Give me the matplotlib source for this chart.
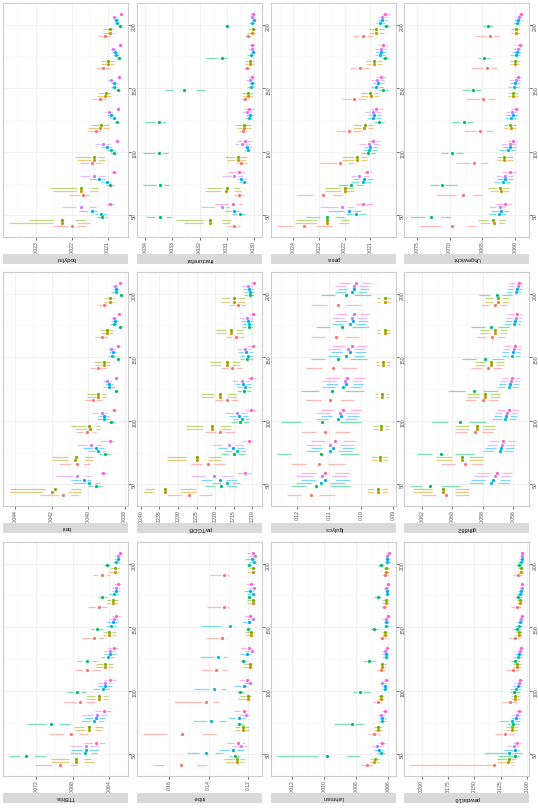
import matplotlib.pyplot as plt
from matplotlib.ticker import FixedLocator
import numpy as np

plt.rcParams['font.family'] = ['Liberation Sans', 'DejaVu Sans']

N_VALUES = [50, 75, 100, 125, 150, 175, 200]
COLORS = ['#F8766D', '#CD9600', '#7CAE00', '#00BE67', '#00BFC4', '#00A9FF', '#C77CFF', '#FF61CC']

# every array: rows = the 8 methods, columns = n (50 ... 200)
# HI = upper whisker end, Q3 / Q1 = box edges, MED = median, LO = lower whisker end

BODYFAT_HI = [
    [0.02252, 0.02207, 0.02178, 0.02157, 0.02145, 0.02133, 0.02128],
    [0.02377, 0.02252, 0.02185, 0.02155, 0.02131, 0.02120, 0.02113],
    [0.02319, 0.02261, 0.02192, 0.02148, 0.02127, 0.02118, 0.02113],
    [0.02131, 0.02106, 0.02093, 0.02081, 0.02076, 0.02073, 0.02070],
    [0.02136, 0.02118, 0.02102, 0.02094, 0.02090, 0.02085, 0.02082],
    [0.02181, 0.02152, 0.02118, 0.02102, 0.02092, 0.02087, 0.02083],
    [0.02229, 0.02178, 0.02136, 0.02111, 0.02099, 0.02093, 0.02087],
    [0.02106, 0.02090, 0.02080, 0.02076, 0.02071, 0.02069, 0.02069],
]
BODYFAT_Q3 = [
    [0.02210, 0.02178, 0.02152, 0.02136, 0.02124, 0.02118, 0.02113],
    [0.02252, 0.02187, 0.02148, 0.02127, 0.02113, 0.02104, 0.02097],
    [0.02252, 0.02187, 0.02148, 0.02124, 0.02111, 0.02104, 0.02097],
    [0.02122, 0.02099, 0.02085, 0.02076, 0.02072, 0.02069, 0.02067],
    [0.02127, 0.02108, 0.02094, 0.02087, 0.02083, 0.02080, 0.02078],
    [0.02155, 0.02131, 0.02106, 0.02093, 0.02085, 0.02081, 0.02079],
    [0.02189, 0.02150, 0.02120, 0.02104, 0.02093, 0.02087, 0.02082],
    [0.02094, 0.02082, 0.02074, 0.02070, 0.02067, 0.02066, 0.02064],
]
BODYFAT_MED = [
    [0.02201, 0.02170, 0.02144, 0.02132, 0.02121, 0.02113, 0.02108],
    [0.02229, 0.02175, 0.02139, 0.02122, 0.02107, 0.02099, 0.02094],
    [0.02229, 0.02176, 0.02139, 0.02119, 0.02106, 0.02098, 0.02093],
    [0.02115, 0.02094, 0.02081, 0.02074, 0.02070, 0.02068, 0.02065],
    [0.02119, 0.02102, 0.02090, 0.02083, 0.02081, 0.02077, 0.02075],
    [0.02145, 0.02124, 0.02101, 0.02090, 0.02082, 0.02079, 0.02076],
    [0.02175, 0.02138, 0.02113, 0.02097, 0.02090, 0.02084, 0.02081],
    [0.02094, 0.02082, 0.02074, 0.02070, 0.02067, 0.02066, 0.02064],
]
BODYFAT_Q1 = [
    [0.02185, 0.02167, 0.02136, 0.02127, 0.02118, 0.02108, 0.02104],
    [0.02187, 0.02150, 0.02127, 0.02113, 0.02102, 0.02094, 0.02088],
    [0.02192, 0.02148, 0.02127, 0.02113, 0.02102, 0.02094, 0.02088],
    [0.02108, 0.02090, 0.02078, 0.02070, 0.02069, 0.02066, 0.02063],
    [0.02113, 0.02096, 0.02085, 0.02081, 0.02078, 0.02074, 0.02072],
    [0.02138, 0.02118, 0.02096, 0.02085, 0.02080, 0.02076, 0.02073],
    [0.02152, 0.02127, 0.02106, 0.02094, 0.02087, 0.02081, 0.02078],
    [0.02094, 0.02082, 0.02074, 0.02070, 0.02067, 0.02066, 0.02064],
]
BODYFAT_LO = [
    [0.02161, 0.02152, 0.02118, 0.02118, 0.02104, 0.02094, 0.02094],
    [0.02150, 0.02127, 0.02108, 0.02096, 0.02090, 0.02083, 0.02081],
    [0.02164, 0.02127, 0.02108, 0.02096, 0.02090, 0.02083, 0.02081],
    [0.02102, 0.02083, 0.02074, 0.02067, 0.02065, 0.02063, 0.02060],
    [0.02102, 0.02090, 0.02080, 0.02076, 0.02071, 0.02069, 0.02068],
    [0.02131, 0.02108, 0.02087, 0.02081, 0.02074, 0.02071, 0.02069],
    [0.02133, 0.02108, 0.02094, 0.02085, 0.02081, 0.02076, 0.02072],
    [0.02083, 0.02076, 0.02069, 0.02067, 0.02062, 0.02061, 0.02059],
]

FRACT_HI = [
    [0.03093, 0.03074, 0.03065, 0.03055, 0.03045, 0.03036, 0.03033],
    [0.03257, 0.03181, 0.03097, 0.03062, 0.03043, 0.03033, 0.03024],
    [0.03288, 0.03171, 0.03106, 0.03068, 0.03043, 0.03033, 0.03020],
    [0.03399, 0.03410, 0.03407, 0.03401, 0.03328, 0.03178, 0.03106],
    [0.03080, 0.03055, 0.03036, 0.03030, 0.03024, 0.03023, 0.03018],
    [0.03106, 0.03062, 0.03036, 0.03028, 0.03018, 0.03011, 0.03007],
    [0.03196, 0.03118, 0.03070, 0.03043, 0.03028, 0.03020, 0.03015],
    [0.03143, 0.03093, 0.03062, 0.03030, 0.03020, 0.03018, 0.03015],
]
FRACT_Q3 = [
    [0.03080, 0.03062, 0.03053, 0.03045, 0.03035, 0.03028, 0.03025],
    [0.03187, 0.03121, 0.03068, 0.03043, 0.03026, 0.03019, 0.03010],
    [0.03187, 0.03118, 0.03070, 0.03043, 0.03026, 0.03019, 0.03009],
    [0.03363, 0.03360, 0.03363, 0.03363, 0.03297, 0.03131, 0.03101],
    [0.03062, 0.03043, 0.03028, 0.03020, 0.03015, 0.03012, 0.03010],
    [0.03083, 0.03053, 0.03028, 0.03018, 0.03010, 0.03005, 0.03002],
    [0.03143, 0.03083, 0.03053, 0.03030, 0.03018, 0.03012, 0.03009],
    [0.03093, 0.03065, 0.03043, 0.03020, 0.03012, 0.03010, 0.03007],
]
FRACT_MED = [
    [0.03072, 0.03055, 0.03046, 0.03040, 0.03030, 0.03024, 0.03021],
    [0.03160, 0.03102, 0.03059, 0.03035, 0.03021, 0.03014, 0.03005],
    [0.03160, 0.03099, 0.03059, 0.03036, 0.03020, 0.03014, 0.03004],
    [0.03345, 0.03347, 0.03350, 0.03351, 0.03257, 0.03118, 0.03099],
    [0.03052, 0.03036, 0.03021, 0.03016, 0.03010, 0.03009, 0.03005],
    [0.03074, 0.03045, 0.03023, 0.03014, 0.03005, 0.03001, 0.02999],
    [0.03118, 0.03072, 0.03043, 0.03024, 0.03012, 0.03007, 0.03005],
    [0.03078, 0.03053, 0.03033, 0.03016, 0.03007, 0.03005, 0.03002],
]
FRACT_Q1 = [
    [0.03062, 0.03049, 0.03036, 0.03033, 0.03024, 0.03020, 0.03018],
    [0.03118, 0.03072, 0.03049, 0.03028, 0.03015, 0.03007, 0.03001],
    [0.03116, 0.03072, 0.03049, 0.03030, 0.03015, 0.03007, 0.02999],
    [0.03323, 0.03332, 0.03336, 0.03338, 0.03213, 0.03112, 0.03098],
    [0.03045, 0.03030, 0.03015, 0.03011, 0.03005, 0.03005, 0.03001],
    [0.03065, 0.03036, 0.03018, 0.03009, 0.03001, 0.02997, 0.02996],
    [0.03106, 0.03062, 0.03033, 0.03018, 0.03007, 0.03002, 0.03001],
    [0.03053, 0.03045, 0.03024, 0.03011, 0.03005, 0.03001, 0.03000],
]
FRACT_LO = [
    [0.03049, 0.03040, 0.03024, 0.03024, 0.03018, 0.03015, 0.03011],
    [0.03087, 0.03046, 0.03028, 0.03011, 0.03002, 0.02999, 0.02992],
    [0.03083, 0.03049, 0.03024, 0.03011, 0.03002, 0.02999, 0.02990],
    [0.03307, 0.03313, 0.03317, 0.03322, 0.03181, 0.03099, 0.03093],
    [0.03030, 0.03024, 0.03009, 0.03005, 0.02999, 0.02997, 0.02995],
    [0.03053, 0.03028, 0.03009, 0.03002, 0.02995, 0.02992, 0.02990],
    [0.03087, 0.03040, 0.03015, 0.03005, 0.03002, 0.02997, 0.02995],
    [0.03043, 0.03030, 0.03005, 0.02999, 0.02999, 0.02995, 0.02992],
]

PESA_HI = [
    [0.02464, 0.02385, 0.02294, 0.02235, 0.02211, 0.02180, 0.02168],
    [0.02393, 0.02275, 0.02208, 0.02168, 0.02136, 0.02117, 0.02105],
    [0.02389, 0.02275, 0.02208, 0.02168, 0.02136, 0.02117, 0.02105],
    [0.02350, 0.02227, 0.02136, 0.02085, 0.02065, 0.02054, 0.02050],
    [0.02196, 0.02176, 0.02128, 0.02113, 0.02097, 0.02081, 0.02077],
    [0.02263, 0.02168, 0.02124, 0.02105, 0.02089, 0.02077, 0.02070],
    [0.02294, 0.02176, 0.02144, 0.02121, 0.02097, 0.02081, 0.02070],
    [0.02156, 0.02124, 0.02109, 0.02097, 0.02077, 0.02065, 0.02054],
]
PESA_Q3 = [
    [0.02401, 0.02322, 0.02231, 0.02196, 0.02176, 0.02156, 0.02144],
    [0.02307, 0.02215, 0.02164, 0.02136, 0.02109, 0.02097, 0.02085],
    [0.02307, 0.02215, 0.02164, 0.02136, 0.02109, 0.02097, 0.02085],
    [0.02294, 0.02188, 0.02117, 0.02074, 0.02054, 0.02046, 0.02042],
    [0.02168, 0.02144, 0.02113, 0.02097, 0.02085, 0.02070, 0.02070],
    [0.02204, 0.02144, 0.02109, 0.02093, 0.02077, 0.02065, 0.02058],
    [0.02227, 0.02156, 0.02117, 0.02101, 0.02081, 0.02065, 0.02061],
    [0.02136, 0.02113, 0.02093, 0.02085, 0.02065, 0.02058, 0.02046],
]
PESA_MED = [
    [0.02358, 0.02283, 0.02218, 0.02183, 0.02163, 0.02140, 0.02128],
    [0.02268, 0.02199, 0.02152, 0.02123, 0.02097, 0.02086, 0.02077],
    [0.02268, 0.02199, 0.02152, 0.02121, 0.02100, 0.02086, 0.02077],
    [0.02268, 0.02173, 0.02109, 0.02067, 0.02050, 0.02042, 0.02038],
    [0.02156, 0.02128, 0.02105, 0.02088, 0.02077, 0.02064, 0.02064],
    [0.02184, 0.02126, 0.02101, 0.02084, 0.02071, 0.02060, 0.02054],
    [0.02209, 0.02144, 0.02105, 0.02090, 0.02073, 0.02060, 0.02055],
    [0.02128, 0.02113, 0.02089, 0.02077, 0.02060, 0.02051, 0.02042],
]
PESA_Q1 = [
    [0.02310, 0.02243, 0.02188, 0.02168, 0.02148, 0.02128, 0.02113],
    [0.02223, 0.02196, 0.02136, 0.02109, 0.02085, 0.02074, 0.02065],
    [0.02215, 0.02196, 0.02136, 0.02109, 0.02085, 0.02074, 0.02065],
    [0.02239, 0.02156, 0.02097, 0.02058, 0.02042, 0.02034, 0.02030],
    [0.02144, 0.02117, 0.02093, 0.02077, 0.02065, 0.02054, 0.02054],
    [0.02168, 0.02113, 0.02089, 0.02074, 0.02061, 0.02054, 0.02046],
    [0.02192, 0.02128, 0.02089, 0.02077, 0.02061, 0.02050, 0.02046],
    [0.02117, 0.02101, 0.02077, 0.02065, 0.02054, 0.02042, 0.02034],
]
PESA_LO = [
    [0.02247, 0.02211, 0.02164, 0.02136, 0.02117, 0.02105, 0.02089],
    [0.02184, 0.02164, 0.02113, 0.02089, 0.02065, 0.02054, 0.02046],
    [0.02184, 0.02164, 0.02113, 0.02089, 0.02065, 0.02054, 0.02046],
    [0.02204, 0.02128, 0.02081, 0.02046, 0.02030, 0.02026, 0.02022],
    [0.02117, 0.02097, 0.02074, 0.02058, 0.02050, 0.02042, 0.02042],
    [0.02136, 0.02089, 0.02070, 0.02058, 0.02046, 0.02038, 0.02034],
    [0.02164, 0.02105, 0.02065, 0.02058, 0.02046, 0.02034, 0.02034],
    [0.02089, 0.02093, 0.02061, 0.02050, 0.02038, 0.02030, 0.02022],
]

UHG_HI = [
    [0.07459, 0.07204, 0.06908, 0.06786, 0.06745, 0.06668, 0.06617],
    [0.06541, 0.06388, 0.06276, 0.06173, 0.06107, 0.06071, 0.06056],
    [0.06566, 0.06413, 0.06276, 0.06173, 0.06107, 0.06082, 0.06056],
    [0.07612, 0.07306, 0.07128, 0.06959, 0.06806, 0.06566, 0.06490],
    [0.06398, 0.06327, 0.06245, 0.06158, 0.06107, 0.06071, 0.06031],
    [0.06362, 0.06270, 0.06184, 0.06133, 0.06082, 0.06041, 0.06015],
    [0.06403, 0.06296, 0.06209, 0.06133, 0.06092, 0.06031, 0.06005],
    [0.06296, 0.06194, 0.06107, 0.06056, 0.06005, 0.05980, 0.05954],
]
UHG_Q3 = [
    [0.07138, 0.06898, 0.06694, 0.06592, 0.06541, 0.06490, 0.06439],
    [0.06388, 0.06260, 0.06194, 0.06107, 0.06056, 0.06031, 0.06010],
    [0.06413, 0.06276, 0.06194, 0.06107, 0.06056, 0.06031, 0.06005],
    [0.07383, 0.07163, 0.07026, 0.06847, 0.06694, 0.06515, 0.06449],
    [0.06286, 0.06235, 0.06143, 0.06092, 0.06051, 0.06020, 0.05995],
    [0.06245, 0.06184, 0.06107, 0.06056, 0.06020, 0.05990, 0.05969],
    [0.06286, 0.06194, 0.06117, 0.06071, 0.06020, 0.05980, 0.05969],
    [0.06184, 0.06107, 0.06056, 0.06005, 0.05969, 0.05944, 0.05929],
]
UHG_MED = [
    [0.06959, 0.06796, 0.06633, 0.06531, 0.06490, 0.06429, 0.06388],
    [0.06327, 0.06214, 0.06168, 0.06066, 0.06031, 0.06000, 0.05990],
    [0.06337, 0.06225, 0.06168, 0.06071, 0.06026, 0.06005, 0.05980],
    [0.07281, 0.07122, 0.06959, 0.06786, 0.06643, 0.06480, 0.06413],
    [0.06245, 0.06189, 0.06107, 0.06056, 0.06020, 0.05990, 0.05975],
    [0.06209, 0.06148, 0.06071, 0.06031, 0.05995, 0.05969, 0.05949],
    [0.06235, 0.06148, 0.06082, 0.06041, 0.05990, 0.05959, 0.05944],
    [0.06148, 0.06071, 0.06031, 0.05990, 0.05949, 0.05929, 0.05913],
]
UHG_Q1 = [
    [0.06735, 0.06643, 0.06515, 0.06439, 0.06413, 0.06347, 0.06327],
    [0.06245, 0.06184, 0.06133, 0.06041, 0.06005, 0.05980, 0.05964],
    [0.06245, 0.06194, 0.06133, 0.06041, 0.06005, 0.05980, 0.05954],
    [0.07138, 0.07077, 0.06898, 0.06735, 0.06617, 0.06449, 0.06378],
    [0.06209, 0.06148, 0.06082, 0.06031, 0.05995, 0.05969, 0.05954],
    [0.06173, 0.06117, 0.06041, 0.06005, 0.05969, 0.05949, 0.05929],
    [0.06194, 0.06107, 0.06056, 0.06020, 0.05969, 0.05939, 0.05923],
    [0.06122, 0.06041, 0.06005, 0.05980, 0.05939, 0.05913, 0.05898],
]
UHG_LO = [
    [0.06602, 0.06500, 0.06413, 0.06337, 0.06311, 0.06276, 0.06245],
    [0.06158, 0.06092, 0.06031, 0.05990, 0.05954, 0.05939, 0.05929],
    [0.06158, 0.06092, 0.06031, 0.05990, 0.05954, 0.05929, 0.05918],
    [0.06990, 0.06888, 0.06796, 0.06643, 0.06515, 0.06388, 0.06337],
    [0.06133, 0.06071, 0.06005, 0.05980, 0.05944, 0.05929, 0.05918],
    [0.06092, 0.06031, 0.05990, 0.05954, 0.05929, 0.05908, 0.05898],
    [0.06133, 0.06031, 0.05990, 0.05980, 0.05929, 0.05903, 0.05893],
    [0.06056, 0.05990, 0.05969, 0.05939, 0.05903, 0.05878, 0.05872],
]

BMI_HI = [
    [0.04264, 0.04158, 0.04065, 0.04018, 0.03991, 0.03964, 0.03945],
    [0.04436, 0.04200, 0.04071, 0.04005, 0.03964, 0.03931, 0.03915],
    [0.04427, 0.04200, 0.04096, 0.04005, 0.03969, 0.03936, 0.03909],
    [0.04000, 0.03942, 0.03891, 0.03856, 0.03845, 0.03831, 0.03827],
    [0.04082, 0.04000, 0.03951, 0.03918, 0.03891, 0.03878, 0.03873],
    [0.04096, 0.04027, 0.03945, 0.03909, 0.03885, 0.03873, 0.03864],
    [0.04176, 0.04064, 0.03978, 0.03918, 0.03891, 0.03876, 0.03867],
    [0.03936, 0.03936, 0.03873, 0.03855, 0.03845, 0.03836, 0.03833],
]
BMI_Q3 = [
    [0.04158, 0.04095, 0.04027, 0.03987, 0.03955, 0.03936, 0.03922],
    [0.04255, 0.04109, 0.04005, 0.03958, 0.03927, 0.03904, 0.03891],
    [0.04236, 0.04109, 0.04013, 0.03958, 0.03927, 0.03904, 0.03889],
    [0.03973, 0.03922, 0.03882, 0.03849, 0.03836, 0.03824, 0.03820],
    [0.04013, 0.03964, 0.03927, 0.03900, 0.03878, 0.03864, 0.03856],
    [0.04040, 0.03976, 0.03927, 0.03896, 0.03873, 0.03860, 0.03853],
    [0.04085, 0.04005, 0.03945, 0.03904, 0.03876, 0.03864, 0.03856],
    [0.03918, 0.03896, 0.03860, 0.03845, 0.03836, 0.03829, 0.03824],
]
BMI_MED = [
    [0.04140, 0.04062, 0.04004, 0.03971, 0.03945, 0.03927, 0.03913],
    [0.04200, 0.04071, 0.03989, 0.03945, 0.03916, 0.03895, 0.03882],
    [0.04182, 0.04069, 0.03995, 0.03945, 0.03916, 0.03895, 0.03880],
    [0.03960, 0.03909, 0.03873, 0.03849, 0.03836, 0.03824, 0.03820],
    [0.03995, 0.03949, 0.03913, 0.03885, 0.03871, 0.03858, 0.03849],
    [0.04024, 0.03958, 0.03913, 0.03885, 0.03865, 0.03855, 0.03847],
    [0.04060, 0.03982, 0.03927, 0.03896, 0.03873, 0.03858, 0.03851],
    [0.03918, 0.03882, 0.03860, 0.03845, 0.03836, 0.03829, 0.03824],
]
BMI_Q1 = [
    [0.04096, 0.04027, 0.03978, 0.03955, 0.03936, 0.03918, 0.03904],
    [0.04109, 0.04018, 0.03955, 0.03922, 0.03904, 0.03885, 0.03871],
    [0.04096, 0.04018, 0.03958, 0.03922, 0.03904, 0.03885, 0.03871],
    [0.03951, 0.03900, 0.03867, 0.03849, 0.03836, 0.03824, 0.03820],
    [0.03964, 0.03927, 0.03900, 0.03873, 0.03864, 0.03851, 0.03842],
    [0.04005, 0.03942, 0.03904, 0.03876, 0.03858, 0.03849, 0.03842],
    [0.04018, 0.03951, 0.03915, 0.03885, 0.03867, 0.03853, 0.03845],
    [0.03918, 0.03873, 0.03860, 0.03845, 0.03836, 0.03829, 0.03824],
]
BMI_LO = [
    [0.04051, 0.03991, 0.03955, 0.03927, 0.03904, 0.03895, 0.03891],
    [0.04040, 0.03976, 0.03933, 0.03900, 0.03882, 0.03864, 0.03860],
    [0.04040, 0.03973, 0.03933, 0.03900, 0.03882, 0.03864, 0.03855],
    [0.03927, 0.03878, 0.03855, 0.03842, 0.03831, 0.03816, 0.03813],
    [0.03936, 0.03909, 0.03882, 0.03855, 0.03849, 0.03840, 0.03835],
    [0.03982, 0.03915, 0.03885, 0.03864, 0.03845, 0.03838, 0.03831],
    [0.03987, 0.03927, 0.03896, 0.03873, 0.03855, 0.03842, 0.03835],
    [0.03896, 0.03860, 0.03849, 0.03835, 0.03827, 0.03820, 0.03816],
]

PWT_HI = [
    [0.02329, 0.02265, 0.02227, 0.02201, 0.02183, 0.02170, 0.02163],
    [0.02395, 0.02329, 0.02278, 0.02239, 0.02214, 0.02198, 0.02183],
    [0.02390, 0.02329, 0.02278, 0.02239, 0.02214, 0.02198, 0.02183],
    [0.02227, 0.02183, 0.02158, 0.02142, 0.02132, 0.02127, 0.02122],
    [0.02209, 0.02173, 0.02153, 0.02140, 0.02132, 0.02127, 0.02122],
    [0.02239, 0.02193, 0.02163, 0.02147, 0.02137, 0.02130, 0.02125],
    [0.02265, 0.02209, 0.02173, 0.02155, 0.02142, 0.02135, 0.02130],
    [0.02142, 0.02127, 0.02119, 0.02114, 0.02112, 0.02109, 0.02107],
]
PWT_Q3 = [
    [0.02290, 0.02234, 0.02198, 0.02178, 0.02165, 0.02155, 0.02147],
    [0.02367, 0.02278, 0.02232, 0.02204, 0.02183, 0.02170, 0.02160],
    [0.02362, 0.02278, 0.02232, 0.02204, 0.02183, 0.02170, 0.02160],
    [0.02201, 0.02163, 0.02142, 0.02130, 0.02122, 0.02117, 0.02112],
    [0.02183, 0.02155, 0.02137, 0.02127, 0.02119, 0.02114, 0.02112],
    [0.02209, 0.02168, 0.02145, 0.02132, 0.02125, 0.02117, 0.02114],
    [0.02227, 0.02181, 0.02153, 0.02137, 0.02127, 0.02122, 0.02117],
    [0.02127, 0.02117, 0.02109, 0.02107, 0.02104, 0.02102, 0.02099],
]
PWT_MED = [
    [0.02270, 0.02219, 0.02186, 0.02168, 0.02155, 0.02145, 0.02137],
    [0.02336, 0.02249, 0.02209, 0.02186, 0.02168, 0.02158, 0.02150],
    [0.02334, 0.02249, 0.02209, 0.02186, 0.02168, 0.02158, 0.02150],
    [0.02183, 0.02150, 0.02132, 0.02122, 0.02114, 0.02109, 0.02107],
    [0.02168, 0.02142, 0.02127, 0.02119, 0.02112, 0.02109, 0.02107],
    [0.02188, 0.02153, 0.02135, 0.02125, 0.02117, 0.02112, 0.02109],
    [0.02204, 0.02163, 0.02140, 0.02127, 0.02119, 0.02114, 0.02112],
    [0.02119, 0.02109, 0.02104, 0.02102, 0.02099, 0.02097, 0.02094],
]
PWT_Q1 = [
    [0.02244, 0.02204, 0.02173, 0.02158, 0.02145, 0.02137, 0.02130],
    [0.02295, 0.02219, 0.02188, 0.02168, 0.02155, 0.02145, 0.02137],
    [0.02295, 0.02219, 0.02188, 0.02168, 0.02155, 0.02145, 0.02137],
    [0.02168, 0.02137, 0.02122, 0.02114, 0.02109, 0.02104, 0.02102],
    [0.02155, 0.02132, 0.02119, 0.02112, 0.02107, 0.02104, 0.02102],
    [0.02170, 0.02140, 0.02125, 0.02117, 0.02109, 0.02107, 0.02104],
    [0.02183, 0.02147, 0.02130, 0.02119, 0.02112, 0.02109, 0.02107],
    [0.02112, 0.02104, 0.02099, 0.02097, 0.02094, 0.02094, 0.02091],
]
PWT_LO = [
    [0.02209, 0.02173, 0.02147, 0.02137, 0.02127, 0.02122, 0.02117],
    [0.02252, 0.02183, 0.02158, 0.02142, 0.02132, 0.02125, 0.02119],
    [0.02252, 0.02183, 0.02158, 0.02142, 0.02132, 0.02125, 0.02119],
    [0.02142, 0.02119, 0.02109, 0.02104, 0.02099, 0.02097, 0.02094],
    [0.02132, 0.02117, 0.02107, 0.02102, 0.02099, 0.02097, 0.02094],
    [0.02142, 0.02122, 0.02112, 0.02104, 0.02099, 0.02097, 0.02094],
    [0.02153, 0.02125, 0.02114, 0.02107, 0.02102, 0.02099, 0.02097],
    [0.02102, 0.02097, 0.02091, 0.02091, 0.02089, 0.02089, 0.02089],
]

GLY_HI = [
    [0.1233, 0.1218, 0.1188, 0.1173, 0.1173, 0.1158, 0.1158],
    [0.0982, 0.0970, 0.0964, 0.0958, 0.0955, 0.0952, 0.0952],
    [0.0982, 0.0970, 0.0964, 0.0958, 0.0955, 0.0952, 0.0952],
    [0.1218, 0.1264, 0.1249, 0.1188, 0.1158, 0.1142, 0.1127],
    [0.1203, 0.1173, 0.1142, 0.1121, 0.1103, 0.1091, 0.1082],
    [0.1188, 0.1158, 0.1127, 0.1109, 0.1094, 0.1082, 0.1073],
    [0.1203, 0.1173, 0.1142, 0.1121, 0.1103, 0.1091, 0.1082],
    [0.1188, 0.1158, 0.1127, 0.1109, 0.1091, 0.1079, 0.1070],
]
GLY_Q3 = [
    [0.1188, 0.1173, 0.1142, 0.1127, 0.1121, 0.1112, 0.1106],
    [0.0961, 0.0952, 0.0949, 0.0946, 0.0943, 0.0940, 0.0940],
    [0.0961, 0.0952, 0.0949, 0.0946, 0.0943, 0.0940, 0.0940],
    [0.1173, 0.1218, 0.1188, 0.1133, 0.1112, 0.1097, 0.1082],
    [0.1158, 0.1133, 0.1103, 0.1082, 0.1067, 0.1058, 0.1049],
    [0.1142, 0.1121, 0.1091, 0.1073, 0.1061, 0.1049, 0.1043],
    [0.1152, 0.1127, 0.1097, 0.1079, 0.1064, 0.1055, 0.1046],
    [0.1142, 0.1112, 0.1088, 0.1067, 0.1052, 0.1043, 0.1036],
]
GLY_MED = [
    [0.1158, 0.1133, 0.1112, 0.1097, 0.1088, 0.1079, 0.1073],
    [0.0946, 0.0940, 0.0937, 0.0934, 0.0931, 0.0927, 0.0927],
    [0.0946, 0.0940, 0.0937, 0.0934, 0.0931, 0.0927, 0.0927],
    [0.1142, 0.1127, 0.1121, 0.1091, 0.1073, 0.1061, 0.1049],
    [0.1127, 0.1097, 0.1073, 0.1058, 0.1046, 0.1036, 0.1030],
    [0.1112, 0.1088, 0.1064, 0.1049, 0.1036, 0.1027, 0.1021],
    [0.1121, 0.1097, 0.1067, 0.1052, 0.1040, 0.1030, 0.1024],
    [0.1112, 0.1082, 0.1058, 0.1043, 0.1030, 0.1021, 0.1015],
]
GLY_Q1 = [
    [0.1133, 0.1103, 0.1082, 0.1067, 0.1061, 0.1052, 0.1046],
    [0.0934, 0.0931, 0.0927, 0.0924, 0.0921, 0.0921, 0.0918],
    [0.0934, 0.0931, 0.0927, 0.0924, 0.0921, 0.0921, 0.0918],
    [0.1097, 0.1067, 0.1067, 0.1052, 0.1036, 0.1030, 0.1021],
    [0.1097, 0.1073, 0.1052, 0.1036, 0.1024, 0.1015, 0.1009],
    [0.1082, 0.1061, 0.1043, 0.1027, 0.1018, 0.1009, 0.1003],
    [0.1091, 0.1067, 0.1046, 0.1030, 0.1021, 0.1012, 0.1006],
    [0.1082, 0.1058, 0.1036, 0.1021, 0.1012, 0.1003, 0.0997],
]
GLY_LO = [
    [0.1082, 0.1052, 0.1036, 0.1021, 0.1012, 0.1006, 0.1000],
    [0.0915, 0.0915, 0.0912, 0.0912, 0.0909, 0.0909, 0.0909],
    [0.0915, 0.0915, 0.0912, 0.0912, 0.0909, 0.0909, 0.0909],
    [0.1036, 0.1006, 0.1000, 0.0991, 0.0982, 0.0976, 0.0970],
    [0.1052, 0.1030, 0.1012, 0.1000, 0.0991, 0.0985, 0.0982],
    [0.1036, 0.1021, 0.1006, 0.0994, 0.0985, 0.0979, 0.0976],
    [0.1043, 0.1024, 0.1006, 0.0997, 0.0988, 0.0982, 0.0976],
    [0.1036, 0.1015, 0.1000, 0.0988, 0.0982, 0.0976, 0.0970],
]

GIL_HI = [
    [0.06200, 0.06075, 0.05981, 0.05919, 0.05875, 0.05837, 0.05812],
    [0.06262, 0.06106, 0.05981, 0.05900, 0.05850, 0.05819, 0.05787],
    [0.06262, 0.06106, 0.05981, 0.05900, 0.05850, 0.05819, 0.05787],
    [0.06281, 0.06231, 0.06137, 0.06025, 0.05937, 0.05875, 0.05825],
    [0.05887, 0.05794, 0.05737, 0.05700, 0.05675, 0.05656, 0.05644],
    [0.05875, 0.05781, 0.05725, 0.05694, 0.05669, 0.05650, 0.05637],
    [0.05856, 0.05769, 0.05719, 0.05687, 0.05662, 0.05644, 0.05631],
    [0.05837, 0.05756, 0.05706, 0.05675, 0.05656, 0.05637, 0.05625],
]
GIL_Q3 = [
    [0.06106, 0.05981, 0.05900, 0.05844, 0.05806, 0.05775, 0.05756],
    [0.06137, 0.06000, 0.05887, 0.05825, 0.05781, 0.05756, 0.05731],
    [0.06137, 0.06000, 0.05887, 0.05825, 0.05781, 0.05756, 0.05731],
    [0.06200, 0.06137, 0.06025, 0.05919, 0.05844, 0.05787, 0.05750],
    [0.05794, 0.05725, 0.05669, 0.05650, 0.05631, 0.05612, 0.05606],
    [0.05781, 0.05712, 0.05675, 0.05644, 0.05625, 0.05606, 0.05600],
    [0.05762, 0.05706, 0.05669, 0.05637, 0.05619, 0.05600, 0.05594],
    [0.05750, 0.05694, 0.05650, 0.05631, 0.05612, 0.05594, 0.05587],
]
GIL_MED = [
    [0.06044, 0.05919, 0.05850, 0.05800, 0.05762, 0.05737, 0.05719],
    [0.06062, 0.05937, 0.05837, 0.05781, 0.05744, 0.05719, 0.05700],
    [0.06062, 0.05937, 0.05837, 0.05781, 0.05744, 0.05719, 0.05700],
    [0.06150, 0.06075, 0.05950, 0.05856, 0.05787, 0.05744, 0.05706],
    [0.05744, 0.05687, 0.05650, 0.05625, 0.05606, 0.05594, 0.05581],
    [0.05731, 0.05681, 0.05644, 0.05619, 0.05600, 0.05587, 0.05575],
    [0.05719, 0.05675, 0.05637, 0.05612, 0.05594, 0.05581, 0.05569],
    [0.05706, 0.05662, 0.05625, 0.05606, 0.05587, 0.05575, 0.05562],
]
GIL_Q1 = [
    [0.05981, 0.05875, 0.05806, 0.05762, 0.05731, 0.05706, 0.05687],
    [0.05981, 0.05887, 0.05794, 0.05750, 0.05712, 0.05687, 0.05669],
    [0.05981, 0.05887, 0.05794, 0.05750, 0.05712, 0.05687, 0.05669],
    [0.06075, 0.05981, 0.05887, 0.05794, 0.05737, 0.05700, 0.05669],
    [0.05700, 0.05656, 0.05625, 0.05606, 0.05587, 0.05575, 0.05569],
    [0.05687, 0.05650, 0.05619, 0.05600, 0.05581, 0.05569, 0.05562],
    [0.05681, 0.05644, 0.05612, 0.05594, 0.05575, 0.05562, 0.05556],
    [0.05669, 0.05631, 0.05606, 0.05587, 0.05569, 0.05556, 0.05550],
]
GIL_LO = [
    [0.05887, 0.05794, 0.05731, 0.05700, 0.05669, 0.05650, 0.05637],
    [0.05887, 0.05794, 0.05719, 0.05687, 0.05656, 0.05637, 0.05625],
    [0.05887, 0.05794, 0.05719, 0.05687, 0.05656, 0.05637, 0.05625],
    [0.05950, 0.05856, 0.05775, 0.05700, 0.05656, 0.05625, 0.05606],
    [0.05625, 0.05600, 0.05581, 0.05569, 0.05556, 0.05550, 0.05544],
    [0.05619, 0.05594, 0.05575, 0.05562, 0.05550, 0.05544, 0.05537],
    [0.05612, 0.05587, 0.05569, 0.05556, 0.05544, 0.05537, 0.05537],
    [0.05606, 0.05581, 0.05562, 0.05550, 0.05544, 0.05537, 0.05531],
]

TTB_HI = [
    [0.07211, 0.07063, 0.06896, 0.06774, 0.06700, 0.06630, 0.06574],
    [0.07044, 0.06778, 0.06656, 0.06544, 0.06470, 0.06422, 0.06396],
    [0.07044, 0.06785, 0.06656, 0.06544, 0.06470, 0.06422, 0.06385],
    [0.07507, 0.07304, 0.06867, 0.06748, 0.06593, 0.06526, 0.06452],
    [0.06833, 0.06704, 0.06574, 0.06489, 0.06433, 0.06404, 0.06359],
    [0.06815, 0.06674, 0.06526, 0.06459, 0.06422, 0.06367, 0.06341],
    [0.06830, 0.06693, 0.06526, 0.06452, 0.06404, 0.06367, 0.06341],
    [0.06674, 0.06552, 0.06452, 0.06407, 0.06367, 0.06341, 0.06311],
]
TTB_Q3 = [
    [0.07026, 0.06896, 0.06767, 0.06681, 0.06600, 0.06544, 0.06519],
    [0.06841, 0.06667, 0.06556, 0.06470, 0.06422, 0.06378, 0.06352],
    [0.06841, 0.06674, 0.06556, 0.06470, 0.06422, 0.06378, 0.06352],
    [0.07378, 0.07100, 0.06785, 0.06693, 0.06563, 0.06496, 0.06430],
    [0.06711, 0.06607, 0.06496, 0.06441, 0.06396, 0.06359, 0.06333],
    [0.06681, 0.06581, 0.06470, 0.06415, 0.06378, 0.06341, 0.06319],
    [0.06693, 0.06581, 0.06470, 0.06407, 0.06370, 0.06341, 0.06319],
    [0.06581, 0.06489, 0.06422, 0.06370, 0.06341, 0.06319, 0.06296],
]
TTB_MED = [
    [0.06941, 0.06822, 0.06719, 0.06637, 0.06567, 0.06515, 0.06481],
    [0.06763, 0.06619, 0.06515, 0.06441, 0.06396, 0.06359, 0.06333],
    [0.06767, 0.06619, 0.06511, 0.06441, 0.06396, 0.06359, 0.06333],
    [0.07311, 0.07037, 0.06748, 0.06637, 0.06537, 0.06478, 0.06419],
    [0.06667, 0.06570, 0.06470, 0.06415, 0.06378, 0.06341, 0.06319],
    [0.06648, 0.06541, 0.06448, 0.06393, 0.06352, 0.06322, 0.06304],
    [0.06648, 0.06533, 0.06444, 0.06385, 0.06348, 0.06322, 0.06300],
    [0.06544, 0.06459, 0.06393, 0.06348, 0.06322, 0.06304, 0.06281],
]
TTB_Q1 = [
    [0.06833, 0.06730, 0.06656, 0.06589, 0.06519, 0.06489, 0.06433],
    [0.06674, 0.06552, 0.06470, 0.06407, 0.06367, 0.06341, 0.06315],
    [0.06674, 0.06552, 0.06470, 0.06407, 0.06367, 0.06341, 0.06315],
    [0.07230, 0.06952, 0.06711, 0.06581, 0.06507, 0.06459, 0.06407],
    [0.06600, 0.06526, 0.06444, 0.06385, 0.06359, 0.06319, 0.06304],
    [0.06619, 0.06507, 0.06422, 0.06367, 0.06330, 0.06304, 0.06293],
    [0.06607, 0.06489, 0.06415, 0.06367, 0.06330, 0.06304, 0.06285],
    [0.06507, 0.06433, 0.06367, 0.06330, 0.06304, 0.06289, 0.06274],
]
TTB_LO = [
    [0.06741, 0.06630, 0.06552, 0.06500, 0.06452, 0.06422, 0.06389],
    [0.06570, 0.06489, 0.06407, 0.06352, 0.06322, 0.06304, 0.06289],
    [0.06593, 0.06470, 0.06407, 0.06352, 0.06322, 0.06304, 0.06289],
    [0.07100, 0.06833, 0.06652, 0.06533, 0.06470, 0.06422, 0.06385],
    [0.06533, 0.06459, 0.06396, 0.06341, 0.06322, 0.06296, 0.06281],
    [0.06507, 0.06441, 0.06370, 0.06322, 0.06296, 0.06281, 0.06274],
    [0.06526, 0.06422, 0.06370, 0.06333, 0.06304, 0.06281, 0.06267],
    [0.06441, 0.06378, 0.06322, 0.06296, 0.06278, 0.06267, 0.06252],
]

TRIBE_HI = [
    [0.1675, 0.1732, 0.1575, 0.1440, 0.1413, 0.1410, 0.1393],
    [0.1318, 0.1268, 0.1253, 0.1227, 0.1215, 0.1207, 0.1207],
    [0.1323, 0.1268, 0.1240, 0.1223, 0.1215, 0.1207, 0.1198],
    [0.1298, 0.1257, 0.1257, 0.1240, 0.1210, 0.1207, 0.1207],
    [0.1510, 0.1477, 0.1473, 0.1443, 0.1437, 0.1207, 0.1198],
    [0.1348, 0.1298, 0.1273, 0.1243, 0.1232, 0.1220, 0.1215],
    [0.1282, 0.1248, 0.1223, 0.1215, 0.1207, 0.1198, 0.1195],
    [0.1307, 0.1273, 0.1248, 0.1237, 0.1223, 0.1210, 0.1207],
]
TRIBE_Q3 = [
    [0.1625, 0.1610, 0.1432, 0.1382, 0.1348, 0.1340, 0.1340],
    [0.1273, 0.1240, 0.1212, 0.1202, 0.1193, 0.1187, 0.1183],
    [0.1273, 0.1243, 0.1212, 0.1202, 0.1193, 0.1187, 0.1185],
    [0.1282, 0.1252, 0.1248, 0.1235, 0.1207, 0.1202, 0.1202],
    [0.1448, 0.1407, 0.1398, 0.1373, 0.1340, 0.1187, 0.1182],
    [0.1298, 0.1265, 0.1235, 0.1215, 0.1207, 0.1198, 0.1193],
    [0.1248, 0.1223, 0.1198, 0.1190, 0.1185, 0.1178, 0.1177],
    [0.1273, 0.1243, 0.1220, 0.1210, 0.1202, 0.1195, 0.1190],
]
TRIBE_MED = [
    [0.1540, 0.1532, 0.1415, 0.1362, 0.1332, 0.1323, 0.1323],
    [0.1257, 0.1228, 0.1202, 0.1193, 0.1185, 0.1178, 0.1175],
    [0.1257, 0.1228, 0.1202, 0.1193, 0.1185, 0.1178, 0.1177],
    [0.1268, 0.1245, 0.1243, 0.1228, 0.1200, 0.1198, 0.1198],
    [0.1415, 0.1387, 0.1373, 0.1353, 0.1290, 0.1178, 0.1173],
    [0.1278, 0.1248, 0.1223, 0.1207, 0.1195, 0.1190, 0.1183],
    [0.1235, 0.1212, 0.1190, 0.1183, 0.1177, 0.1170, 0.1168],
    [0.1252, 0.1223, 0.1207, 0.1198, 0.1193, 0.1185, 0.1178],
]
TRIBE_Q1 = [
    [0.1460, 0.1432, 0.1377, 0.1332, 0.1315, 0.1307, 0.1310],
    [0.1243, 0.1215, 0.1195, 0.1187, 0.1178, 0.1173, 0.1170],
    [0.1243, 0.1215, 0.1195, 0.1187, 0.1178, 0.1173, 0.1170],
    [0.1257, 0.1237, 0.1235, 0.1220, 0.1195, 0.1193, 0.1195],
    [0.1368, 0.1348, 0.1340, 0.1327, 0.1273, 0.1173, 0.1168],
    [0.1257, 0.1232, 0.1215, 0.1198, 0.1190, 0.1183, 0.1177],
    [0.1223, 0.1202, 0.1183, 0.1178, 0.1173, 0.1165, 0.1165],
    [0.1232, 0.1215, 0.1198, 0.1190, 0.1187, 0.1178, 0.1173],
]
TRIBE_LO = [
    [0.1410, 0.1365, 0.1348, 0.1310, 0.1307, 0.1298, 0.1298],
    [0.1223, 0.1198, 0.1190, 0.1182, 0.1173, 0.1165, 0.1165],
    [0.1215, 0.1198, 0.1187, 0.1182, 0.1173, 0.1165, 0.1165],
    [0.1240, 0.1223, 0.1223, 0.1207, 0.1190, 0.1187, 0.1190],
    [0.1327, 0.1315, 0.1315, 0.1307, 0.1265, 0.1165, 0.1160],
    [0.1223, 0.1215, 0.1207, 0.1190, 0.1182, 0.1173, 0.1165],
    [0.1207, 0.1190, 0.1177, 0.1173, 0.1165, 0.1160, 0.1162],
    [0.1215, 0.1207, 0.1190, 0.1182, 0.1182, 0.1173, 0.1170],
]

LEHMAN_HI = [
    [0.00770, 0.00727, 0.00697, 0.00673, 0.00661, 0.00649, 0.00643],
    [0.00715, 0.00691, 0.00667, 0.00655, 0.00643, 0.00637, 0.00630],
    [0.00715, 0.00691, 0.00667, 0.00655, 0.00643, 0.00637, 0.00630],
    [0.01297, 0.00939, 0.00818, 0.00758, 0.00715, 0.00691, 0.00667],
    [0.00673, 0.00661, 0.00643, 0.00637, 0.00630, 0.00624, 0.00624],
    [0.00691, 0.00661, 0.00643, 0.00637, 0.00630, 0.00624, 0.00624],
    [0.00703, 0.00673, 0.00655, 0.00643, 0.00637, 0.00630, 0.00624],
    [0.00667, 0.00643, 0.00630, 0.00624, 0.00618, 0.00618, 0.00612],
]
LEHMAN_Q3 = [
    [0.00745, 0.00703, 0.00679, 0.00661, 0.00643, 0.00637, 0.00630],
    [0.00697, 0.00673, 0.00655, 0.00643, 0.00630, 0.00624, 0.00618],
    [0.00697, 0.00673, 0.00655, 0.00643, 0.00630, 0.00624, 0.00618],
    [0.01042, 0.00842, 0.00794, 0.00733, 0.00697, 0.00673, 0.00655],
    [0.00655, 0.00643, 0.00630, 0.00624, 0.00618, 0.00612, 0.00612],
    [0.00667, 0.00643, 0.00630, 0.00624, 0.00618, 0.00612, 0.00612],
    [0.00679, 0.00655, 0.00643, 0.00630, 0.00624, 0.00618, 0.00612],
    [0.00649, 0.00630, 0.00618, 0.00612, 0.00606, 0.00606, 0.00600],
]
LEHMAN_MED = [
    [0.00733, 0.00691, 0.00667, 0.00649, 0.00637, 0.00630, 0.00624],
    [0.00691, 0.00667, 0.00649, 0.00637, 0.00624, 0.00618, 0.00612],
    [0.00685, 0.00667, 0.00649, 0.00637, 0.00624, 0.00618, 0.00612],
    [0.00982, 0.00824, 0.00776, 0.00721, 0.00691, 0.00667, 0.00649],
    [0.00649, 0.00637, 0.00624, 0.00618, 0.00612, 0.00606, 0.00606],
    [0.00661, 0.00637, 0.00624, 0.00618, 0.00612, 0.00606, 0.00606],
    [0.00673, 0.00649, 0.00637, 0.00624, 0.00618, 0.00612, 0.00606],
    [0.00643, 0.00624, 0.00612, 0.00606, 0.00600, 0.00600, 0.00594],
]
LEHMAN_Q1 = [
    [0.00721, 0.00679, 0.00655, 0.00637, 0.00630, 0.00624, 0.00618],
    [0.00679, 0.00661, 0.00643, 0.00630, 0.00618, 0.00612, 0.00606],
    [0.00679, 0.00661, 0.00643, 0.00630, 0.00618, 0.00612, 0.00606],
    [0.00867, 0.00806, 0.00758, 0.00709, 0.00685, 0.00661, 0.00643],
    [0.00643, 0.00630, 0.00618, 0.00612, 0.00606, 0.00600, 0.00600],
    [0.00649, 0.00630, 0.00618, 0.00612, 0.00606, 0.00600, 0.00600],
    [0.00661, 0.00643, 0.00630, 0.00618, 0.00612, 0.00606, 0.00600],
    [0.00637, 0.00618, 0.00606, 0.00600, 0.00594, 0.00594, 0.00594],
]
LEHMAN_LO = [
    [0.00697, 0.00655, 0.00637, 0.00624, 0.00612, 0.00606, 0.00600],
    [0.00661, 0.00643, 0.00630, 0.00618, 0.00606, 0.00600, 0.00594],
    [0.00661, 0.00643, 0.00630, 0.00618, 0.00606, 0.00600, 0.00594],
    [0.00776, 0.00751, 0.00715, 0.00679, 0.00667, 0.00649, 0.00630],
    [0.00624, 0.00612, 0.00606, 0.00600, 0.00594, 0.00594, 0.00588],
    [0.00630, 0.00612, 0.00606, 0.00600, 0.00594, 0.00594, 0.00588],
    [0.00643, 0.00624, 0.00612, 0.00606, 0.00600, 0.00594, 0.00594],
    [0.00618, 0.00606, 0.00594, 0.00594, 0.00588, 0.00588, 0.00588],
]

PEW_HI = [
    [0.02114, 0.01305, 0.01238, 0.01200, 0.01171, 0.01152, 0.01133],
    [0.01289, 0.01200, 0.01152, 0.01133, 0.01114, 0.01095, 0.01086],
    [0.01286, 0.01200, 0.01152, 0.01133, 0.01114, 0.01095, 0.01086],
    [0.01276, 0.01181, 0.01162, 0.01152, 0.01133, 0.01114, 0.01105],
    [0.01410, 0.01257, 0.01162, 0.01133, 0.01114, 0.01105, 0.01095],
    [0.01219, 0.01152, 0.01133, 0.01114, 0.01095, 0.01086, 0.01076],
    [0.01193, 0.01143, 0.01124, 0.01105, 0.01086, 0.01076, 0.01067],
    [0.01133, 0.01105, 0.01086, 0.01076, 0.01067, 0.01057, 0.01048],
]
PEW_Q3 = [
    [0.01336, 0.01238, 0.01190, 0.01152, 0.01133, 0.01114, 0.01105],
    [0.01193, 0.01162, 0.01133, 0.01105, 0.01086, 0.01076, 0.01067],
    [0.01190, 0.01162, 0.01133, 0.01105, 0.01086, 0.01076, 0.01067],
    [0.01130, 0.01152, 0.01143, 0.01124, 0.01105, 0.01095, 0.01086],
    [0.01193, 0.01171, 0.01124, 0.01105, 0.01086, 0.01076, 0.01067],
    [0.01130, 0.01124, 0.01105, 0.01086, 0.01076, 0.01067, 0.01060],
    [0.01146, 0.01114, 0.01095, 0.01076, 0.01067, 0.01060, 0.01057],
    [0.01105, 0.01086, 0.01076, 0.01067, 0.01057, 0.01052, 0.01048],
]
PEW_MED = [
    [0.01314, 0.01210, 0.01162, 0.01133, 0.01114, 0.01095, 0.01086],
    [0.01178, 0.01143, 0.01114, 0.01095, 0.01076, 0.01067, 0.01060],
    [0.01168, 0.01143, 0.01114, 0.01095, 0.01076, 0.01067, 0.01060],
    [0.01114, 0.01133, 0.01124, 0.01114, 0.01095, 0.01086, 0.01076],
    [0.01168, 0.01143, 0.01105, 0.01086, 0.01076, 0.01067, 0.01057],
    [0.01114, 0.01105, 0.01086, 0.01076, 0.01067, 0.01057, 0.01052],
    [0.01124, 0.01095, 0.01076, 0.01067, 0.01057, 0.01052, 0.01048],
    [0.01092, 0.01076, 0.01067, 0.01057, 0.01050, 0.01046, 0.01043],
]
PEW_Q1 = [
    [0.01155, 0.01181, 0.01143, 0.01114, 0.01095, 0.01086, 0.01076],
    [0.01162, 0.01124, 0.01095, 0.01086, 0.01067, 0.01060, 0.01052],
    [0.01152, 0.01124, 0.01095, 0.01086, 0.01067, 0.01060, 0.01052],
    [0.01098, 0.01114, 0.01105, 0.01095, 0.01086, 0.01076, 0.01067],
    [0.01146, 0.01114, 0.01086, 0.01076, 0.01067, 0.01057, 0.01050],
    [0.01098, 0.01086, 0.01076, 0.01067, 0.01057, 0.01050, 0.01044],
    [0.01105, 0.01076, 0.01067, 0.01057, 0.01050, 0.01044, 0.01040],
    [0.01076, 0.01067, 0.01057, 0.01048, 0.01044, 0.01040, 0.01038],
]
PEW_LO = [
    [0.01130, 0.01124, 0.01095, 0.01076, 0.01067, 0.01057, 0.01048],
    [0.01124, 0.01086, 0.01067, 0.01057, 0.01048, 0.01043, 0.01038],
    [0.01114, 0.01086, 0.01067, 0.01057, 0.01048, 0.01043, 0.01038],
    [0.01073, 0.01076, 0.01067, 0.01067, 0.01057, 0.01048, 0.01043],
    [0.01050, 0.01067, 0.01057, 0.01048, 0.01048, 0.01038, 0.01038],
    [0.01073, 0.01067, 0.01057, 0.01048, 0.01038, 0.01038, 0.01035],
    [0.01073, 0.01057, 0.01048, 0.01038, 0.01038, 0.01035, 0.01035],
    [0.01057, 0.01048, 0.01038, 0.01038, 0.01035, 0.01035, 0.01035],
]

PANEL_NAMES = ['bodyfat', 'fracturefat', 'pesa', 'Uhgewicht',
               'bmi', 'pwTGDB', 'lgulycs', 'gilh882',
               'TTBhla', 'tribe', 'Lehman', 'pewdat16']
PANEL_TICKS = [
    [0.023, 0.022, 0.021], [0.034, 0.033, 0.032, 0.031, 0.030],
    [0.024, 0.023, 0.022, 0.021], [0.075, 0.070, 0.065, 0.060],
    [0.044, 0.042, 0.040, 0.038], [0.0240, 0.0235, 0.0230, 0.0225, 0.0220, 0.0215, 0.0210],
    [0.12, 0.11, 0.10, 0.09], [0.062, 0.060, 0.058, 0.056],
    [0.072, 0.068, 0.064], [0.16, 0.14, 0.12],
    [0.012, 0.010, 0.008, 0.006], [0.0200, 0.0175, 0.0150, 0.0125, 0.0100],
]
PANEL_FMT = ['%.3f', '%.3f', '%.3f', '%.3f', '%.3f', '%.4f',
             '%.2f', '%.3f', '%.3f', '%.2f', '%.3f', '%.4f']
PANEL_DATA = [
    (BODYFAT_HI, BODYFAT_Q3, BODYFAT_MED, BODYFAT_Q1, BODYFAT_LO),
    (FRACT_HI, FRACT_Q3, FRACT_MED, FRACT_Q1, FRACT_LO),
    (PESA_HI, PESA_Q3, PESA_MED, PESA_Q1, PESA_LO),
    (UHG_HI, UHG_Q3, UHG_MED, UHG_Q1, UHG_LO),
    (BMI_HI, BMI_Q3, BMI_MED, BMI_Q1, BMI_LO),
    (PWT_HI, PWT_Q3, PWT_MED, PWT_Q1, PWT_LO),
    (GLY_HI, GLY_Q3, GLY_MED, GLY_Q1, GLY_LO),
    (GIL_HI, GIL_Q3, GIL_MED, GIL_Q1, GIL_LO),
    (TTB_HI, TTB_Q3, TTB_MED, TTB_Q1, TTB_LO),
    (TRIBE_HI, TRIBE_Q3, TRIBE_MED, TRIBE_Q1, TRIBE_LO),
    (LEHMAN_HI, LEHMAN_Q3, LEHMAN_MED, LEHMAN_Q1, LEHMAN_LO),
    (PEW_HI, PEW_Q3, PEW_MED, PEW_Q1, PEW_LO),
]

W, H = 538, 808
fig = plt.figure(figsize=(W / 100, H / 100), dpi=100)
fig.patch.set_facecolor('white')

col_left = [3, 137, 271, 404]
row_top = [3, 272, 542]
panel_w, panel_h = 125, 234

for k, name in enumerate(PANEL_NAMES):
    r, c = divmod(k, 4)
    left = col_left[c] / W
    bottom = 1 - (row_top[r] + panel_h) / H
    ax = fig.add_axes([left, bottom, panel_w / W, panel_h / H])
    ax.set_facecolor('white')

    hi, q3, med, q1, lo = [np.array(a) for a in PANEL_DATA[k]]
    for i, col in enumerate(COLORS):
        y = np.array(N_VALUES) + (i - 3.5) * 2.5
        ax.hlines(y, hi[i], q3[i], color=col, alpha=0.5, lw=0.9)
        ax.hlines(y, q1[i], lo[i], color=col, alpha=0.5, lw=0.9)
        ax.plot(med[i], y, 'o', color=col, ms=2.3, mec='none', zorder=3)
    top, low = hi.max(), lo.min()
    pad = (top - low) * 0.05
    ax.set_xlim(top + pad, low - pad)
    ax.set_ylim(32.9, 217.1)

    ticks = PANEL_TICKS[k]
    ax.xaxis.set_major_locator(FixedLocator(ticks))
    ax.set_xticklabels([PANEL_FMT[k] % t for t in ticks])
    step = ticks[0] - ticks[1]
    minor = [t + step / 2 for t in [ticks[0] + step] + ticks]
    ax.xaxis.set_minor_locator(FixedLocator(minor))
    ax.yaxis.set_major_locator(FixedLocator([50, 100, 150, 200]))
    ax.yaxis.set_minor_locator(FixedLocator([75, 125, 175]))
    ax.yaxis.tick_right()

    ax.grid(which='major', color='#EBEBEB', lw=0.5)
    ax.grid(which='minor', color='#F5F5F5', lw=0.4)
    ax.set_axisbelow(True)
    for s in ax.spines.values():
        s.set_color('#CCCCCC')
        s.set_linewidth(0.8)

    ax.tick_params(which='major', length=2, width=0.5, color='#333333',
                   labelsize=3.7, labelcolor='#4D4D4D', pad=1)
    ax.tick_params(which='minor', length=0)
    ax.tick_params(axis='x', labelrotation=90)
    ax.tick_params(axis='y', labelrotation=90)

    sax = fig.add_axes([left, 1 - (row_top[r] + panel_h + 27) / H, panel_w / W, 10 / H])
    sax.set_facecolor('#D9D9D9')
    sax.set_xticks([])
    sax.set_yticks([])
    for s in sax.spines.values():
        s.set_visible(False)
    sax.text(0.5, 0.5, name, rotation=180, ha='center', va='center',
             fontsize=4.2, color='#1A1A1A', transform=sax.transAxes)

fig.savefig('out.png', dpi=100)
